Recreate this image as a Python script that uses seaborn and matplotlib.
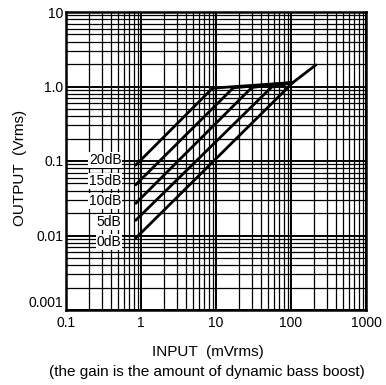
import numpy as np
import pandas as pd
import seaborn as sns
from matplotlib import pyplot as plt
from matplotlib.ticker import LogLocator, FixedLocator, FixedFormatter, NullFormatter

# curve points: input (mVrms) -> output (Vrms)
gains = ["20dB", "15dB", "10dB", "5dB", "0dB"]
x_20 = [0.85, 9.0, 106]
y_20 = [0.088, 0.95, 1.13]
x_15 = [0.85, 17.0, 106]
y_15 = [0.048, 0.96, 1.13]
x_10 = [0.85, 30.0, 106]
y_10 = [0.027, 0.97, 1.13]
x_5 = [0.85, 55.0, 106]
y_5 = [0.016, 0.98, 1.13]
x_0 = [0.85, 106, 215]
y_0 = [0.0092, 1.13, 1.95]

# label anchors (right edge of text)
label_x = 0.55
label_y = [0.103, 0.054, 0.029, 0.0152, 0.0082]

x_ticks = [0.1, 1, 10, 100, 1000]
x_ticklabels = ["0.1", "1", "10", "100", "1000"]
y_ticks = [0.001, 0.01, 0.1, 1, 10]
y_ticklabels = ["0.001", "0.01", "0.1", "1.0", "10"]

curves = pd.concat([
    pd.DataFrame({"input": x_20, "output": y_20, "gain": "20dB"}),
    pd.DataFrame({"input": x_15, "output": y_15, "gain": "15dB"}),
    pd.DataFrame({"input": x_10, "output": y_10, "gain": "10dB"}),
    pd.DataFrame({"input": x_5, "output": y_5, "gain": "5dB"}),
    pd.DataFrame({"input": x_0, "output": y_0, "gain": "0dB"}),
])

sns.set_style("white")
plt.rcParams['font.family'] = ['Liberation Sans', 'DejaVu Sans']
plt.rcParams['text.color'] = 'black'

fig = plt.figure(figsize=(3.86, 3.85), dpi=100)
ax = fig.add_axes([66 / 386, 1 - 310 / 385, 300 / 386, 298 / 385])
ax.set_xscale("log")
ax.set_yscale("log")
ax.set_xlim(0.1, 1000)
ax.set_ylim(0.001, 10)

# log paper grid
ax.xaxis.set_major_locator(FixedLocator(x_ticks))
ax.yaxis.set_major_locator(FixedLocator(y_ticks))
ax.xaxis.set_major_formatter(FixedFormatter(x_ticklabels))
ax.yaxis.set_major_formatter(FixedFormatter(y_ticklabels))
ax.xaxis.set_minor_locator(LogLocator(base=10, subs=np.arange(2, 10), numticks=20))
ax.yaxis.set_minor_locator(LogLocator(base=10, subs=np.arange(2, 10), numticks=20))
ax.xaxis.set_minor_formatter(NullFormatter())
ax.yaxis.set_minor_formatter(NullFormatter())
ax.grid(True, which="major", color="black", lw=1.4)
ax.grid(True, which="minor", color="black", lw=0.9)
ax.tick_params(which="both", length=0, labelsize=10, labelcolor="black")
ax.tick_params(axis="x", pad=4)
ax.tick_params(axis="y", pad=2)
for s in ax.spines.values():
    s.set_color("black")
    s.set_linewidth(1.8)

for g in gains:
    d = curves[curves["gain"] == g]
    sns.lineplot(data=d, x="input", y="output", ax=ax, color="black",
                 lw=2.0, sort=False, estimator=None, legend=False)

for g, ly in zip(gains, label_y):
    ax.text(label_x, ly, g, ha="right", va="center", fontsize=10,
            bbox=dict(facecolor="white", edgecolor="none", pad=0.5))

# bottom y label sits just above the corner, as in the original
ax.yaxis.get_major_ticks()[0].label1.set_verticalalignment("bottom")

ax.set_xlabel("")
ax.set_ylabel("")
fig.text(208 / 386, 1 - 352 / 385, "INPUT  (mVrms)", ha="center", va="center", fontsize=11)
fig.text(207 / 386, 1 - 372 / 385, "(the gain is the amount of dynamic bass boost)",
         ha="center", va="center", fontsize=11)
fig.text(20 / 386, 1 - 168 / 385, "OUTPUT  (Vrms)", ha="center", va="center",
         rotation=90, fontsize=11)

fig.savefig("out.png", dpi=100)
